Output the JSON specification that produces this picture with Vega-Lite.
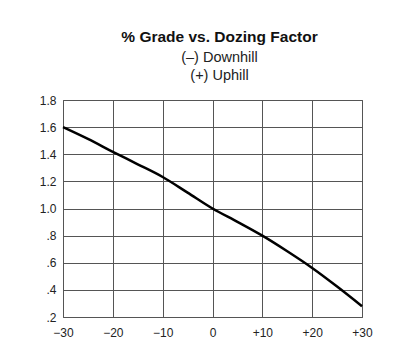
{
  "$schema": "https://vega.github.io/schema/vega-lite/v6.json",
  "width": 299,
  "height": 217,
  "autosize": {"type": "none"},
  "padding": {"left": 63, "top": 100, "right": 43, "bottom": 41},
  "background": "white",
  "title": {
    "text": "% Grade vs. Dozing Factor",
    "subtitle": ["(–) Downhill", "(+) Uphill"],
    "font": "Liberation Sans",
    "fontSize": 15.5,
    "fontWeight": "bold",
    "color": "#111",
    "subtitleFont": "Liberation Sans",
    "subtitleFontSize": 14.5,
    "subtitleColor": "#222",
    "subtitleLineHeight": 18,
    "subtitlePadding": 5,
    "anchor": "middle",
    "dx": 7,
    "offset": 12
  },
  "data": {
    "values": [
      {"grade": -30, "factor": 1.6},
      {"grade": -25, "factor": 1.513},
      {"grade": -20, "factor": 1.418},
      {"grade": -15, "factor": 1.326},
      {"grade": -10, "factor": 1.232},
      {"grade": -5, "factor": 1.117},
      {"grade": 0, "factor": 1.0},
      {"grade": 5, "factor": 0.902},
      {"grade": 10, "factor": 0.8},
      {"grade": 15, "factor": 0.685},
      {"grade": 20, "factor": 0.562},
      {"grade": 25, "factor": 0.425},
      {"grade": 30, "factor": 0.28}
    ]
  },
  "mark": {"type": "line", "color": "black", "strokeWidth": 2.5, "interpolate": "monotone"},
  "encoding": {
    "x": {
      "field": "grade",
      "type": "quantitative",
      "scale": {"domain": [-30, 30], "nice": false, "zero": false},
      "axis": {
        "title": null,
        "values": [-30, -20, -10, 0, 10, 20, 30],
        "labelExpr": "datum.value > 0 ? '+' + datum.value : (datum.value == 0 ? '0' : '−' + abs(datum.value))",
        "labelFlush": false,
        "ticks": false,
        "domain": false,
        "grid": true,
        "gridColor": "#555",
        "gridOpacity": 1,
        "gridWidth": 1,
        "labelFont": "Liberation Sans",
        "labelFontSize": 12,
        "labelColor": "#222",
        "labelPadding": 10
      }
    },
    "y": {
      "field": "factor",
      "type": "quantitative",
      "scale": {"domain": [0.2, 1.8], "nice": false, "zero": false},
      "axis": {
        "title": null,
        "values": [0.2, 0.4, 0.6, 0.8, 1.0, 1.2, 1.4, 1.6, 1.8],
        "labelExpr": "datum.value >= 1 ? format(datum.value, '.1f') : '.' + format(datum.value * 10, '.0f')",
        "labelFlush": false,
        "ticks": false,
        "domain": false,
        "grid": true,
        "gridColor": "#555",
        "gridOpacity": 1,
        "gridWidth": 1,
        "labelFont": "Liberation Sans",
        "labelFontSize": 12,
        "labelColor": "#222",
        "labelPadding": 7
      }
    }
  },
  "config": {
    "view": {"stroke": "#555", "strokeWidth": 1}
  }
}
